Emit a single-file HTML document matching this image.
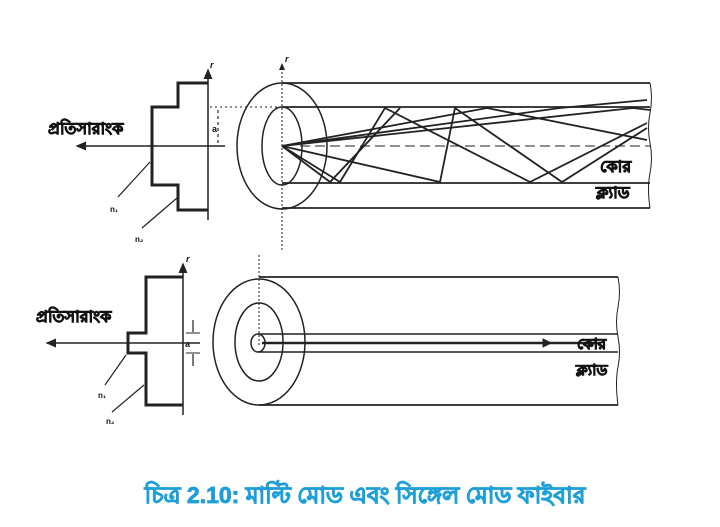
<!DOCTYPE html>
<html><head><meta charset="utf-8"><style>
html,body{margin:0;padding:0;background:#fff;}
svg{display:block}
text{font-family:"Liberation Sans","Noto Sans CJK SC",sans-serif;}
</style></head><body>
<svg width="720" height="527" viewBox="0 0 720 527" xmlns="http://www.w3.org/2000/svg">
<defs>
<marker id="ah" markerWidth="8" markerHeight="8" refX="6" refY="3" orient="auto"><path d="M0,0 L7,3 L0,6 z" fill="#222"/></marker>
</defs>
<g stroke="#222" fill="none">
<!-- TOP PROFILE -->
<line x1="208" y1="220" x2="208" y2="70" stroke-width="1.5" marker-end="url(#ah)"/>
<polyline points="208,83 178,83 178,107 152,107 152,185 178,185 178,210 208,210" stroke-width="3"/>
<line x1="225" y1="146" x2="77" y2="146" stroke-width="1.5" marker-end="url(#ah)"/>
<line x1="210" y1="107" x2="290" y2="107" stroke-width="1" stroke-dasharray="2,3"/>
<line x1="218" y1="110" x2="218" y2="143" stroke-width="1.2" stroke-dasharray="3,3"/>
<line x1="118" y1="197" x2="150" y2="162" stroke-width="1.2"/>
<line x1="142" y1="228" x2="177" y2="198" stroke-width="1.2"/>
<!-- TOP FIBER -->
<line x1="282" y1="250" x2="282" y2="64" stroke-width="1" stroke-dasharray="2,2" marker-end="url(#ah)"/>
<ellipse cx="282" cy="146" rx="45" ry="63" stroke-width="1.5"/>
<ellipse cx="282" cy="146" rx="20" ry="39" stroke-width="1.5"/>
<line x1="282" y1="83" x2="650" y2="83" stroke-width="1.8"/>
<line x1="282" y1="107" x2="650" y2="107" stroke-width="1.8"/>
<line x1="282" y1="183" x2="650" y2="183" stroke-width="1.8"/>
<line x1="282" y1="208" x2="650" y2="208" stroke-width="1.8"/>
<path d="M650,83 q3,15 0,30 q-3,15 0,30 q3,15 0,30 q-3,15 0,35" stroke-width="1"/>
<line x1="300" y1="146" x2="650" y2="146" stroke-width="1" stroke-dasharray="10,5"/>
<g stroke-width="1.8">
<polyline points="282,146 340,182 385,108 530,182 647,123"/>
<polyline points="282,146 440,182 455,108 562,182 647,128"/>
<polyline points="282,146 487,108 647,140"/>
<polyline points="282,146 633,108 650,110"/>
<polyline points="282,146 560,108 647,100"/>
<polyline points="282,146 330,182 400,108"/>
</g>
<!-- BOTTOM PROFILE -->
<line x1="183" y1="415" x2="183" y2="264" stroke-width="1.5" marker-end="url(#ah)"/>
<polyline points="183,277 146,277 146,333 128,333 128,353 146,353 146,405 183,405" stroke-width="3"/>
<line x1="200" y1="343" x2="47" y2="343" stroke-width="1.5" marker-end="url(#ah)"/>
<line x1="193" y1="320" x2="193" y2="332" stroke-width="1.2"/>
<line x1="193" y1="366" x2="193" y2="354" stroke-width="1.2"/>
<line x1="186" y1="333" x2="200" y2="333" stroke-width="1"/>
<line x1="186" y1="353" x2="200" y2="353" stroke-width="1"/>
<line x1="105" y1="385" x2="126" y2="355" stroke-width="1.2"/>
<line x1="112" y1="412" x2="144" y2="385" stroke-width="1.2"/>
<!-- BOTTOM FIBER -->
<line x1="259" y1="255" x2="259" y2="345" stroke-width="1" stroke-dasharray="2,2"/>
<ellipse cx="259" cy="342" rx="46" ry="63" stroke-width="1.5"/>
<ellipse cx="259" cy="342" rx="24" ry="39" stroke-width="1.5"/>
<ellipse cx="258" cy="343" rx="7" ry="9" stroke-width="1.5"/>
<line x1="259" y1="277" x2="618" y2="277" stroke-width="1.8"/>
<line x1="259" y1="405" x2="618" y2="405" stroke-width="1.8"/>
<line x1="258" y1="334" x2="618" y2="334" stroke-width="1.5"/>
<line x1="258" y1="352" x2="618" y2="352" stroke-width="1.5"/>
<path d="M618,277 q3,15 0,30 q-3,15 0,30 q3,15 0,30 q-3,15 0,38" stroke-width="1"/>
<line x1="262" y1="343" x2="600" y2="343" stroke-width="2.5"/>
<path d="M543,339 L551,343 L543,347 z" fill="#222"/>
</g>
<g fill="#111" stroke="#111" stroke-width="0.9" font-weight="bold">
<text x="48" y="134" font-size="16">প্রতিসারাংক</text>
<text x="36" y="322" font-size="16">প্রতিসারাংক</text>
<text x="600" y="172" font-size="16">কোর</text>
<text x="596" y="198" font-size="16">ক্ল্যাড</text>
<text x="577" y="349" font-size="15">কোর</text>
<text x="576" y="375" font-size="15">ক্ল্যাড</text>
</g>
<g fill="#111" font-weight="bold">
<text x="212" y="132" font-size="9">a</text>
<text x="185" y="347" font-size="9">a</text>
<text x="210" y="68" font-size="9" font-style="italic">r</text>
<text x="285" y="62" font-size="9" font-style="italic">r</text>
<text x="186" y="262" font-size="9" font-style="italic">r</text>
<text x="110" y="212" font-size="8">n₁</text>
<text x="135" y="242" font-size="8">n₂</text>
<text x="98" y="398" font-size="8">n₁</text>
<text x="106" y="424" font-size="8">n₂</text>
</g>
<text x="365" y="503" font-size="23" font-weight="bold" fill="#1e9fd8" stroke="#1e9fd8" stroke-width="0.8" text-anchor="middle" font-family="Liberation Sans, sans-serif">চিত্র 2.10: মাল্টি মোড এবং সিঙ্গেল মোড ফাইবার</text>
</svg>
</body></html>
